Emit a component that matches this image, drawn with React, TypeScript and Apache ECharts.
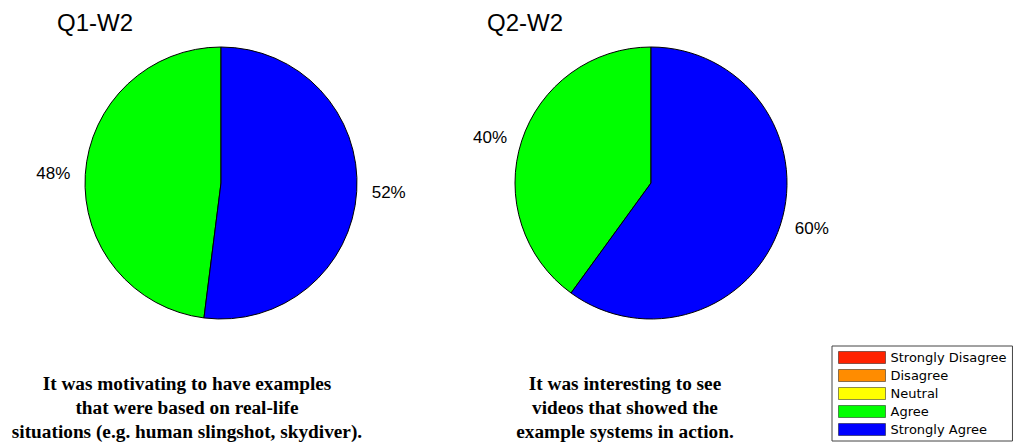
import React, { useEffect, useRef } from "react";
import * as echarts from "echarts";

// Response categories, in legend order
const categories = ["Strongly Disagree", "Disagree", "Neutral", "Agree", "Strongly Agree"];
const categoryColors = ["#FF2200", "#FF8C00", "#FFFF00", "#00FF00", "#0000FF"];

// Percent of responses per category for each question
const q1Values = [0, 0, 0, 48, 52];
const q2Values = [0, 0, 0, 40, 60];

const chartTitles = ["Q1-W2", "Q2-W2"];
const captions = [
  "It was motivating to have examples\nthat were based on real-life\nsituations (e.g. human slingshot, skydiver).",
  "It was interesting to see\nvideos that showed the\nexample systems in action.",
];

const pieCenters: [number, number][] = [
  [221, 183],
  [651, 183],
];

function buildData(values: number[]) {
  return categories.map((name, i) => {
    const v = values[i];
    const item: any = {
      name,
      value: v,
      itemStyle: { color: categoryColors[i] },
    };
    if (v === 0) {
      item.label = { show: false };
      item.labelLine = { show: false };
      item.itemStyle.borderWidth = 0;
    }
    return item;
  });
}

export default function App() {
  const ref = useRef<HTMLDivElement>(null);

  useEffect(() => {
    document.body.style.margin = "0";
    if (!ref.current) return;
    const chart = echarts.init(ref.current, undefined, { renderer: "svg" });

    const series = [q1Values, q2Values].map((vals, idx) => ({
      type: "pie",
      name: chartTitles[idx],
      center: pieCenters[idx],
      radius: 136,
      clockwise: false,
      startAngle: 90,
      avoidLabelOverlap: false,
      emphasis: { disabled: true },
      itemStyle: { borderColor: "#000", borderWidth: 1 },
      label: {
        show: true,
        position: "outside",
        formatter: "{c}%",
        color: "#000",
        fontSize: 17,
        fontFamily: "Liberation Sans, Arial, sans-serif",
        distanceToLabelLine: 5,
      },
      labelLine: { show: false, length: 10, length2: 0 },
      data: buildData(vals),
    }));

    chart.setOption({
      animation: false,
      backgroundColor: "#fff",
      title: chartTitles.map((t, idx) => ({
        text: t,
        left: 57 + idx * 430,
        top: 10,
        padding: 0,
        textStyle: {
          fontSize: 24,
          fontWeight: "normal",
          color: "#000",
          fontFamily: "Liberation Sans, Arial, sans-serif",
        },
      })),
      legend: {
        orient: "vertical",
        left: 832,
        top: 346,
        data: categories,
        icon: "rect",
        itemWidth: 47,
        itemHeight: 12,
        itemGap: 5,
        padding: [5, 6, 5, 6],
        borderColor: "#444",
        borderWidth: 1,
        selectedMode: false,
        itemStyle: { borderColor: "rgba(0,0,0,0.45)", borderWidth: 1 },
        textStyle: {
          fontSize: 13,
          color: "#000",
          fontFamily: "DejaVu Sans, sans-serif",
        },
      },
      graphic: captions.map((c, idx) => ({
        type: "text",
        x: idx === 0 ? 187 : 625,
        y: 372,
        silent: true,
        style: {
          text: c,
          textAlign: "center",
          textVerticalAlign: "top",
          font: 'bold 19.3px "Liberation Serif", serif',
          lineHeight: 23.8,
          fill: "#000",
        },
      })),
      series,
    });

    return () => chart.dispose();
  }, []);

  return <div ref={ref} style={{ width: 1019, height: 444 }} />;
}
